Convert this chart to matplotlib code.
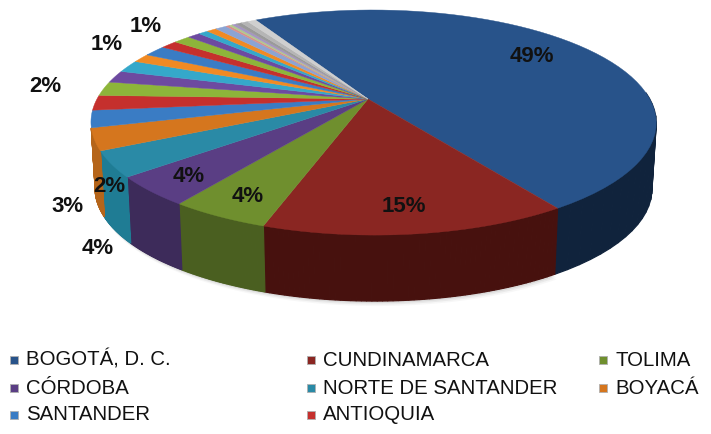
import numpy as np
import matplotlib
matplotlib.use('Agg')
import matplotlib.pyplot as plt

plt.rcParams['font.family'] = ['Liberation Sans', 'DejaVu Sans']

# shares, clockwise from the top left edge of Bogota
shares = [48.6, 14.4, 4.8, 4.2, 3.7, 3.2, 2.5, 2.2, 2.1, 1.8, 1.8, 1.3, 1.6, 1.2,
          1.2, 0.9, 0.7, 0.7, 0.8, 0.25, 0.25, 0.3, 0.4, 0.5, 0.6]
top_colors = ['#28538a', '#8a2622', '#6f8f2e', '#5a3e84', '#2a8aa6', '#d5761e',
              '#3a7cc4', '#c5302d', '#8db53a', '#6d4aa0', '#35a8ca', '#f08a24',
              '#3a7cc4', '#c5302d', '#8db53a', '#6d4aa0', '#35a8ca', '#f08a24',
              '#8ba4d4', '#d98f8c', '#b3c98c', '#a595c3', '#9a9a9a', '#b5b5b5', '#cfcfcf']
side_colors = ['#10233c', '#47110e', '#4a5f20', '#3d2b5a', '#1f7c94', '#b5651a']

legend_names = ['BOGOTÁ, D. C.', 'CUNDINAMARCA', 'TOLIMA', 'CÓRDOBA',
                'NORTE DE SANTANDER', 'BOYACÁ', 'SANTANDER', 'ANTIOQUIA']
legend_x = [14, 311, 603, 14, 311, 603, 14, 311]
legend_y = [360, 360, 360, 388, 388, 388, 415, 415]

label_text = ['49%', '15%', '4%', '4%', '2%', '3%', '4%', '2%', '1%', '1%']
label_x = [532, 404, 248, 189, 109, 67, 98, 45, 107, 146]
label_y = [56, 206, 196, 177, 186, 206, 249, 86, 44, 26]

start_angle = 119
cx, cy = 368, 99
rx, ry, persp, persp_x = 276.3, 107.6, 0.209, -0.0194
depth = 66
shrink = 0.985


def rim(theta):
    u, v = np.cos(theta), np.sin(theta)
    w = 1 + persp * v + persp_x * u
    return cx + rx * u / w, cy - ry * v / w


def low(x):
    return cx + (x - cx) * shrink


fig = plt.figure(figsize=(7.11, 4.34), dpi=100)
ax = fig.add_axes([0, 0, 1, 1])
ax.set_xlim(0, 711)
ax.set_ylim(434, 0)
ax.axis('off')

edges = start_angle - np.cumsum([0] + shares) / sum(shares) * 360

# soft shadow under the front edge, only as far round as the wall goes
t = np.radians(np.linspace(edges[6], edges[0] - 175, 200))
sx, sy = rim(t)
for grow, alpha in zip([5, 3.5, 2], [0.06, 0.1, 0.14]):
    ax.fill(low(sx) + grow / 2, sy + depth + grow, color='#808080', alpha=alpha, lw=0, zorder=1)

# side wall, the slices behind Boyaca do not show one
for i in range(len(side_colors)):
    t = np.radians(np.linspace(edges[i], edges[i + 1], 60))
    for a, b in zip(t[:-1], t[1:]):
        if np.sin((a + b) / 2) > 0.08:
            continue
        xa, ya = rim(a)
        xb, yb = rim(b)
        ax.fill([xa, xb, low(xb), low(xa)], [ya, yb, yb + depth, ya + depth],
                color=side_colors[i], lw=0.9, zorder=2)

# top face
for i in range(len(shares)):
    t = np.radians(np.linspace(edges[i], edges[i + 1], 60))
    x, y = rim(t)
    ax.fill(np.r_[cx, x], np.r_[cy, y], color=top_colors[i], lw=0.3, zorder=3)

for txt, x, y in zip(label_text, label_x, label_y):
    ax.text(x, y, txt, fontsize=16, fontweight='bold', color='#111111',
            ha='center', va='center', zorder=5)

for i, name in enumerate(legend_names):
    ax.scatter(legend_x[i], legend_y[i], marker='s', s=34, color=top_colors[i],
               edgecolors='#b0b0b0', linewidths=0.6, zorder=5)
    ax.text(legend_x[i] + 12, legend_y[i], name, fontsize=14.7, color='#111111',
            ha='left', va='center', zorder=5)

fig.savefig('out.png', dpi=100)
